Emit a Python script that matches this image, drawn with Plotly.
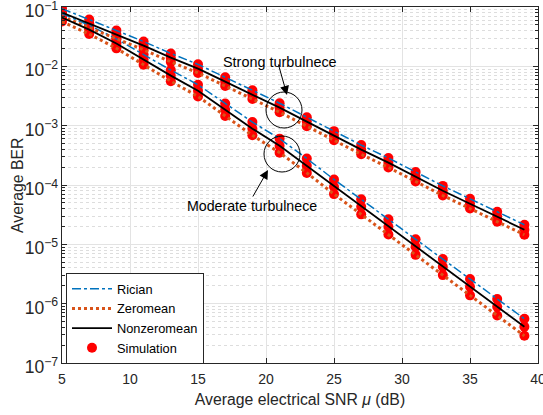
import plotly.graph_objects as go

snr_db = [5, 7, 9, 11, 13, 15, 17, 19, 21, 23, 25, 27, 29, 31, 33, 35, 37, 39]

# Strong turbulence
strong_rician = [0.0940, 0.0614, 0.0402, 0.0262, 0.0165, 0.0108, 0.00653, 0.00395, 0.00239,
                 0.00139, 8.09e-4, 4.71e-4, 2.85e-4, 1.66e-4, 9.66e-5, 5.85e-5, 3.53e-5, 2.14e-5]
strong_zeromean = [0.0690, 0.0449, 0.0292, 0.0190, 0.0119, 0.00774, 0.00467, 0.00281, 0.00169,
                   9.80e-4, 5.68e-4, 3.29e-4, 1.98e-4, 1.15e-4, 6.65e-5, 4.01e-5, 2.41e-5, 1.45e-5]
strong_nonzeromean = [0.0805, 0.0525, 0.0343, 0.0223, 0.0140, 0.00914, 0.00552, 0.00333, 0.00201,
                      0.00117, 6.78e-4, 3.94e-4, 2.38e-4, 1.38e-4, 8.0e-5, 4.84e-5, 2.92e-5, 1.76e-5]

# Moderate turbulence
moderate_rician = [0.0773, 0.0493, 0.0290, 0.0158, 0.00863, 0.00489, 0.00237, 0.00115, 6.04e-4,
                   2.79e-4, 1.24e-4, 5.73e-5, 2.65e-5, 1.22e-5, 5.64e-6, 2.61e-6, 1.20e-6, 5.56e-7]
moderate_zeromean = [0.0568, 0.0351, 0.0201, 0.01064, 0.00562, 0.00310, 0.00146, 6.89e-4, 3.51e-4,
                     1.60e-4, 7.02e-5, 3.20e-5, 1.46e-5, 6.65e-6, 3.03e-6, 1.38e-6, 6.31e-7, 2.87e-7]
moderate_nonzeromean = [0.0662, 0.0416, 0.0242, 0.0130, 0.00697, 0.00389, 0.00186, 8.9e-4, 4.6e-4,
                        2.11e-4, 9.37e-5, 4.31e-5, 1.98e-5, 9.1e-6, 4.19e-6, 1.93e-6, 8.87e-7, 4.08e-7]

x_ticks = [5, 10, 15, 20, 25, 30, 35, 40]

BLUE = "#0072BD"
ORANGE = "#D95319"
RED = "#FF0000"
FONT = "Liberation Sans, Arial, sans-serif"

fig = go.Figure()

# Simulation dots (drawn first so the lines sit on top)
sim_sets = [strong_rician, strong_zeromean, strong_nonzeromean,
            moderate_rician, moderate_zeromean, moderate_nonzeromean]
for i, s in enumerate(sim_sets):
    fig.add_trace(go.Scatter(
        x=snr_db, y=s, mode="markers", name="Simulation",
        marker=dict(color=RED, size=10, line=dict(width=0)),
        showlegend=(i == 0), legendrank=4))

styles = [
    ("Rician", BLUE, "dashdot", 1.5, 1),
    ("Zeromean", ORANGE, "dot", 3, 2),
    ("Nonzeromean", "black", "solid", 1.8, 3),
]
series = {
    "Rician": (strong_rician, moderate_rician),
    "Zeromean": (strong_zeromean, moderate_zeromean),
    "Nonzeromean": (strong_nonzeromean, moderate_nonzeromean),
}
for name, col, dash, w, rank in styles:
    for j, ys in enumerate(series[name]):
        fig.add_trace(go.Scatter(
            x=snr_db, y=ys, mode="lines", name=name,
            line=dict(color=col, dash=dash, width=w),
            showlegend=(j == 0), legendrank=rank))

# plot area in pixels: x 62..538, y 7..363
def px(x):
    return (x - 62) / 476.0

def py(y):
    return (363 - y) / 356.0

shapes = [
    dict(type="circle", xref="paper", yref="paper",
         x0=px(266), x1=px(302), y0=py(128), y1=py(92),
         line=dict(color="black", width=1)),
    dict(type="circle", xref="paper", yref="paper",
         x0=px(264), x1=px(300), y0=py(172), y1=py(136),
         line=dict(color="black", width=1)),
]

annotations = [
    dict(xref="paper", yref="paper", x=px(280), y=py(52), text="Strong turbulnece",
         showarrow=False, font=dict(size=14.4, color="black", family=FONT)),
    dict(xref="paper", yref="paper", x=px(185), y=py(206), text="Moderate turbulnece",
         showarrow=False, font=dict(size=14.2, color="black", family=FONT)),
    dict(xref="paper", yref="paper", x=px(287), y=py(95), ax=-9, ay=-32, text="",
         showarrow=True, arrowhead=2, arrowsize=1.8, arrowwidth=1, arrowcolor="black"),
    dict(xref="paper", yref="paper", x=px(268), y=py(170), ax=-16, ay=28, text="",
         showarrow=True, arrowhead=2, arrowsize=1.8, arrowwidth=1, arrowcolor="black"),
    # y-axis title
    dict(xref="paper", yref="paper", x=px(17), y=py(186), text="Average BER",
         textangle=-90, showarrow=False, xanchor="center", yanchor="middle",
         font=dict(size=15.8, color="#262626", family=FONT)),
]

fig.update_layout(
    width=543, height=415,
    margin=dict(l=62, r=5, t=7, b=52, autoexpand=False),
    paper_bgcolor="white", plot_bgcolor="white",
    font=dict(family=FONT, size=14, color="#262626"),
    shapes=shapes, annotations=annotations,
    legend=dict(x=px(66), y=py(273), xanchor="left", yanchor="top",
                bgcolor="white", bordercolor="#262626", borderwidth=1,
                font=dict(size=12.8, color="black", family=FONT),
                itemwidth=40, tracegroupgap=0),
    xaxis=dict(
        range=[5, 40], tickvals=x_ticks, ticktext=[str(v) for v in x_ticks],
        ticks="inside", ticklen=5, tickcolor="#262626", automargin=False,
        ticklabeloverflow="allow", ticklabelstandoff=3,
        showline=True, linecolor="#262626", linewidth=1, mirror="allticks",
        showgrid=True, gridcolor="#E3E3E3", gridwidth=1, zeroline=False,
        title=dict(text="Average electrical SNR <i>μ</i> (dB)", standoff=8,
                   font=dict(size=15.8, family=FONT, color="#262626")),
        tickfont=dict(size=14, family=FONT, color="#262626"),
    ),
    yaxis=dict(
        type="log", range=[-7, -1], dtick=1, exponentformat="power",
        ticks="inside", ticklen=5, tickcolor="#262626", automargin=False,
        ticklabeloverflow="allow", ticklabelshift=4,
        showline=True, linecolor="#262626", linewidth=1, mirror="allticks",
        showgrid=True, gridcolor="#E3E3E3", gridwidth=1, zeroline=False,
        minor=dict(dtick="D1", ticks="inside", ticklen=3, tickcolor="#262626",
                   showgrid=True, gridcolor="#DDDDDD", griddash="dot", gridwidth=1),
        tickfont=dict(size=14, family=FONT, color="#262626"),
    ),
)

fig.write_html("out.html", config={"displayModeBar": False},
               post_script="document.body.style.margin='0';document.body.style.overflow='hidden';")
